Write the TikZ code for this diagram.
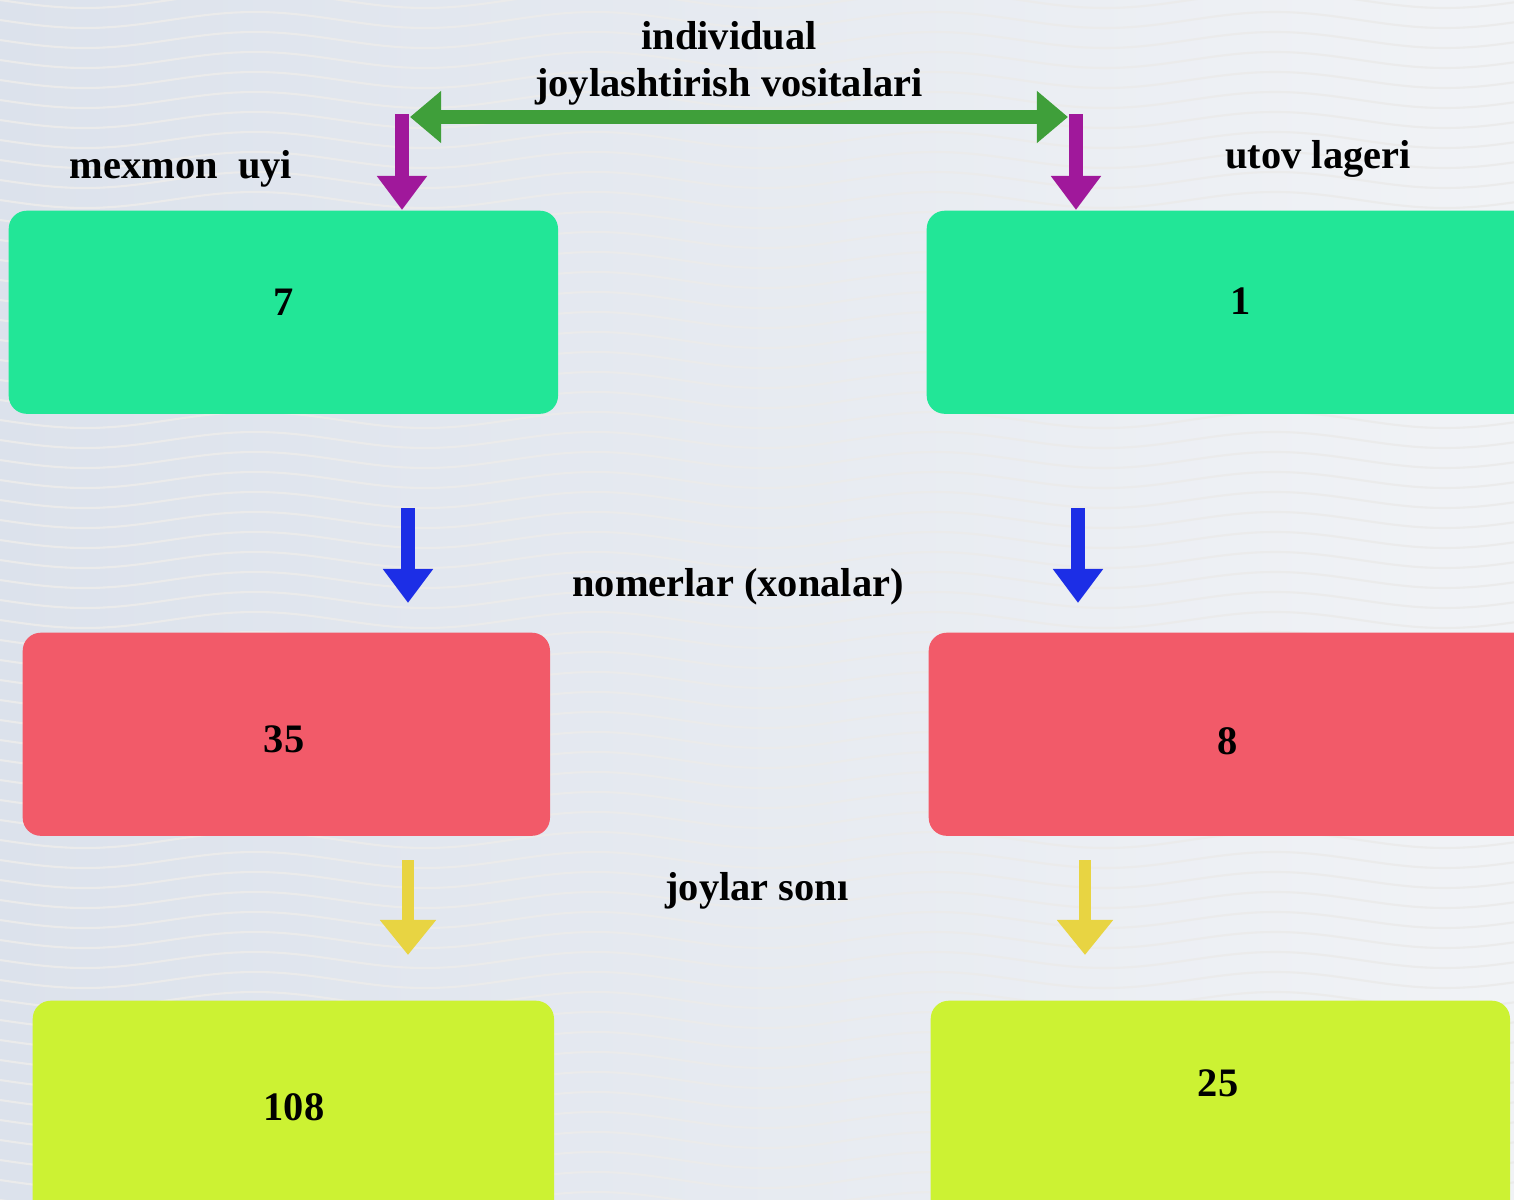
\documentclass[tikz,border=0pt]{standalone}
\usepackage{fontspec}
\setmainfont{Liberation Serif}
\usepackage{tikz}
\usetikzlibrary{positioning,arrows.meta}

\definecolor{bgleft}{HTML}{DCE2EC}
\definecolor{bgright}{HTML}{F1F3F6}
\definecolor{boxgreen}{HTML}{22E697}
\definecolor{boxred}{HTML}{F25A69}
\definecolor{boxlime}{HTML}{CCF233}
\definecolor{arrpurple}{HTML}{A0189B}
\definecolor{arrgreen}{HTML}{3F9F3A}
\definecolor{arrblue}{HTML}{1C2EE6}
\definecolor{arryellow}{HTML}{E8D442}

\tikzset{
  lbl/.style={anchor=base, font=\bfseries\fontsize{11.5}{14}\selectfont, inner sep=0pt},
  bx/.style={rounded corners=0.18cm, inner sep=0pt, anchor=north west},
  downarr/.style={line width=0.14cm, -{Triangle[length=0.34cm,width=0.48cm]}},
  wavy/.style={black!8, line width=0.6pt}
}

\begin{document}
\begin{tikzpicture}[x=0.01cm, y=-0.01cm]
	\useasboundingbox (0,0) rectangle (1514,1200);
	\clip (0,0) rectangle (1514,1200);
	\shade[left color=bgleft, right color=bgright] (0,0) rectangle (1514,1200);
	% faint waves
	\foreach \k in {-1,...,60}
		\draw[wavy] plot[domain=0:1514, samples=90, smooth] (\x, {\k*20 + 8*sin(\x/340*360)});

	% boxes
	\node[bx, fill=boxgreen, minimum width=5.49cm, minimum height=2.03cm] (g1) at (8,210) {};
	\node[bx, fill=boxgreen, minimum width=6.20cm, minimum height=2.03cm] (g2) at (926,210) {};
	\node[bx, fill=boxred, minimum width=5.27cm, minimum height=2.03cm] (r1) at (22,632) {};
	\node[bx, fill=boxred, minimum width=6.20cm, minimum height=2.03cm] (r2) at (928,632) {};
	\node[bx, fill=boxlime, minimum width=5.21cm, minimum height=2.40cm] (l1) at (32,1000) {};
	\node[bx, fill=boxlime, minimum width=5.79cm, minimum height=2.40cm] (l2) at (930,1000) {};

	% numbers
	\node[lbl] (n7) at (284,315) {7};
	\node[lbl] (n1) at (1241,314) {1};
	\node[lbl] (n35) at (284,752) {35};
	\node[lbl] (n8) at (1228,754) {8};
	\node[lbl] (n108) at (294,1120) {108};
	\node[lbl] (n25) at (1218,1096) {25};

	% captions
	\node[lbl] (ind) at (729,50) {individual};
	\node[lbl] (joy) at (729,97) {joylashtirish vositalari};
	\node[lbl] (mex) at (181,178) {mexmon~~uyi};
	\node[lbl] (utov) at (1318,168) {utov lageri};
	\node[lbl] (nom) at (738,596) {nomerlar (xonalar)};
	\node[lbl] (soni) at (757,900) {joylar sonı};

	% arrows
	\coordinate (pl) at (402,114);
	\coordinate (pr) at (1076,114);
	\coordinate (hl) at (410,117);
	\coordinate (hr) at (1068,117);
	\draw[line width=0.14cm, arrgreen, {Triangle[length=0.31cm,width=0.50cm]}-{Triangle[length=0.31cm,width=0.50cm]}] (hl) -- (hr);
	\draw[downarr, arrpurple] (pl) -- (pl |- g1.north);
	\draw[downarr, arrpurple] (pr) -- (pr |- g2.north);

	\coordinate (bl) at (408,508);
	\coordinate (br) at (1078,508);
	\draw[downarr, arrblue] (bl) -- ++(0,95);
	\draw[downarr, arrblue] (br) -- ++(0,95);

	\coordinate (yl) at (408,860);
	\coordinate (yr) at (1085,860);
	\draw[line width=0.12cm, arryellow, -{Triangle[length=0.35cm,width=0.54cm]}] (yl) -- ++(0,95);
	\draw[line width=0.12cm, arryellow, -{Triangle[length=0.35cm,width=0.54cm]}] (yr) -- ++(0,95);
\end{tikzpicture}
\end{document}
